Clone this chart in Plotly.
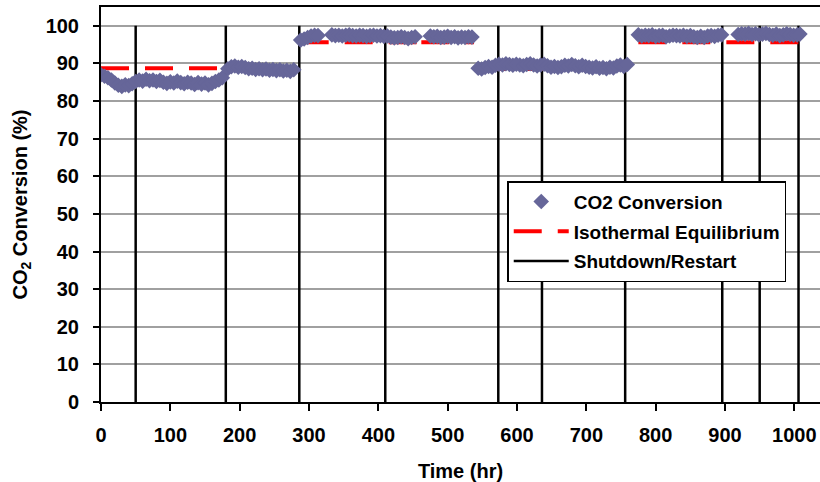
import plotly.graph_objects as go

# ---------------- data ----------------
# CO2 conversion (%) vs time (hr), by run segment
t_seg1 = [0, 5, 10, 15, 20, 25, 30, 35, 40, 45, 50, 55, 60, 65, 70, 75, 80, 85, 90, 95,
          100, 105, 110, 115, 120, 125, 130, 135, 140, 145, 150, 155, 160, 165, 170, 175]
v_seg1 = [87.0, 86.6, 86.2, 85.6, 84.8, 84.2, 83.9, 84.3, 84.1, 84.6, 85.2, 85.6, 85.3, 85.8,
          85.4, 85.6, 85.2, 85.5, 85.0, 84.7, 85.1, 84.8, 85.3, 84.9, 84.6, 85.0, 84.8, 84.4,
          84.9, 84.5, 84.8, 84.3, 84.7, 85.2, 85.6, 86.2]

t_seg2 = [183, 188, 193, 198, 203, 208, 213, 218, 223, 228, 233, 238, 243, 248, 253, 258,
          263, 268, 273, 278]
v_seg2 = [88.6, 89.1, 89.3, 89.0, 89.2, 88.9, 88.6, 88.7, 88.4, 88.6, 88.3, 88.5, 88.2, 88.4,
          88.1, 88.3, 88.0, 88.2, 87.9, 88.3]

t_seg3a = [288, 293, 298, 303, 308, 313]
v_seg3a = [96.2, 96.5, 96.9, 97.3, 97.5, 97.4]

t_seg3b = [333, 338, 343, 348, 353, 358, 363, 368, 373, 378, 383, 388, 393, 398, 403, 408,
           413, 418, 423, 428, 433, 438, 443, 448, 453]
v_seg3b = [97.6, 97.4, 97.5, 97.3, 97.5, 97.6, 97.4, 97.3, 97.5, 97.4, 97.2, 97.4, 97.5, 97.3,
           97.4, 97.2, 97.3, 97.0, 96.8, 96.9, 97.1, 96.9, 96.6, 96.9, 97.1]

t_seg3c = [475, 480, 485, 490, 495, 500, 505, 510, 515, 520, 525, 530, 535]
v_seg3c = [97.3, 97.1, 97.2, 96.9, 97.0, 97.2, 96.9, 97.1, 96.8, 97.0, 96.9, 97.1, 97.0]

t_seg4 = [544, 549, 554, 559, 564, 569, 574, 579, 584, 589, 594, 599, 604, 609, 614, 619,
          624, 629, 634, 639, 644, 649, 654, 659, 664, 669, 674, 679, 684, 689, 694, 699,
          704, 709, 714, 719, 724, 729, 734, 739, 744, 749, 754, 759]
v_seg4 = [88.7, 88.5, 88.9, 89.2, 89.0, 89.5, 89.8, 89.6, 89.9, 89.7, 89.5, 89.8, 89.6, 89.4,
          89.7, 89.9, 89.6, 89.3, 89.6, 89.8, 89.4, 89.0, 89.2, 88.9, 89.1, 89.5, 89.3, 89.7,
          89.4, 89.1, 89.5, 89.2, 89.0, 88.8, 89.1, 88.7, 88.9, 88.6, 89.0, 88.8, 89.3, 89.6,
          89.2, 89.7]

t_seg5a = [775, 780, 785, 790, 795, 800, 805, 810, 815, 820, 825, 830, 835, 840, 845, 850,
           855, 860, 865, 870, 875, 880, 885, 890, 895]
v_seg5a = [97.6, 97.3, 97.5, 97.4, 97.6, 97.2, 97.4, 97.5, 97.1, 97.3, 97.5, 97.4, 97.3, 97.5,
           97.2, 97.4, 97.1, 96.9, 97.2, 96.9, 97.3, 97.4, 97.2, 97.5, 97.6]

t_seg5b = [919, 924, 929, 934, 939, 944, 949, 954, 959, 964, 969, 974, 979, 984, 989, 994,
           999, 1004, 1008]
v_seg5b = [97.7, 97.9, 97.8, 98.0, 97.7, 97.9, 97.6, 97.8, 98.0, 97.7, 97.5, 97.8, 97.4, 97.6,
           97.9, 97.7, 97.5, 97.6, 97.8]

# Isothermal equilibrium conversion per operating period (start, end, value)
eq_start = [0, 183, 288, 462, 544, 775]
eq_end = [180, 280, 456, 538, 760, 1008]
eq_value = [88.7, 88.5, 95.6, 95.6, 88.5, 95.6]

# Shutdown / restart events (hr)
shutdown_times = [50, 180, 286, 410, 573, 636, 756, 896, 950, 1006]
shutdown_bottom = 0
shutdown_top = 100

x_ticks = [0, 100, 200, 300, 400, 500, 600, 700, 800, 900, 1000]
y_ticks = [0, 10, 20, 30, 40, 50, 60, 70, 80, 90, 100]

# ---------------- build ----------------
FONT = "Liberation Sans, Arial, sans-serif"
MARKER_COLOR = "#666699"

t_all, v_all = [], []
for ts, vs in [(t_seg1, v_seg1), (t_seg2, v_seg2), (t_seg3a, v_seg3a), (t_seg3b, v_seg3b),
               (t_seg3c, v_seg3c), (t_seg4, v_seg4), (t_seg5a, v_seg5a), (t_seg5b, v_seg5b)]:
    t_all += ts
    v_all += vs

eq_x, eq_y = [], []
for s, e, v in zip(eq_start, eq_end, eq_value):
    eq_x += [s, e, None]
    eq_y += [v, v, None]

sd_x, sd_y = [], []
for t in shutdown_times:
    sd_x += [t, t, None]
    sd_y += [shutdown_bottom, shutdown_top, None]

fig = go.Figure()

fig.add_trace(go.Scatter(
    x=sd_x, y=sd_y, mode="lines", name="Shutdown/Restart",
    line=dict(color="black", width=2.5), legendrank=3, legendgroup="c",
    hoverinfo="skip"))

fig.add_trace(go.Scatter(
    x=eq_x, y=eq_y, mode="lines", name="Isothermal Equilibrium",
    line=dict(color="#ff0000", width=4, dash="28px,16px"), legendrank=2, legendgroup="b",
    connectgaps=False))

fig.add_trace(go.Scatter(
    x=t_all, y=v_all, mode="markers", name="CO2 Conversion",
    marker=dict(symbol="diamond", size=12, color=MARKER_COLOR, line=dict(width=0)),
    legendrank=1, legendgroup="a"))

fig.update_layout(
    width=820, height=482,
    margin=dict(l=101, r=0, t=7, b=80, autoexpand=False),
    paper_bgcolor="white", plot_bgcolor="white",
    font=dict(family=FONT, size=20, color="black", weight="bold"),
    showlegend=True,
    legend=dict(
        x=0.565, y=0.559, xanchor="left", yanchor="top",
        bgcolor="white", bordercolor="black", borderwidth=1.5,
        font=dict(family=FONT, size=19, color="black", weight="bold"),
        traceorder="grouped", tracegroupgap=2, itemwidth=55,
    ),
    xaxis=dict(
        range=[0, 1037], tickmode="array", tickvals=x_ticks,
        ticks="outside", ticklen=7, tickwidth=1.5, tickcolor="black",
        ticklabelstandoff=7, automargin=False,
        showline=True, linecolor="black", linewidth=2, mirror=True,
        showgrid=False, zeroline=False,
        tickfont=dict(family=FONT, size=20, color="black", weight="bold"),
        title=dict(text="Time (hr)", standoff=24,
                   font=dict(family=FONT, size=20, color="black", weight="bold")),
    ),
    xaxis2=dict(
        range=[0, 1037], overlaying="x", anchor="y", side="bottom",
        tickmode="array", tickvals=x_ticks, showticklabels=False,
        ticks="inside", ticklen=5, tickwidth=1.5, tickcolor="black",
        showline=False, showgrid=False, zeroline=False, automargin=False,
    ),
    yaxis=dict(
        range=[0, 105], tickmode="array", tickvals=y_ticks,
        ticks="outside", ticklen=6, tickwidth=1.5, tickcolor="black",
        ticklabelstandoff=10, automargin=False,
        showline=True, linecolor="black", linewidth=2,
        showgrid=True, gridcolor="#a0a0a0", gridwidth=1.5, zeroline=False,
        tickfont=dict(family=FONT, size=20, color="black", weight="bold"),
        title=dict(text="CO<sub>2</sub> Conversion (%)", standoff=13,
                   font=dict(family=FONT, size=20, color="black", weight="bold")),
    ),
)

fig.write_html("out.html", config={"displayModeBar": False},
               post_script="document.body.style.margin='0';")
